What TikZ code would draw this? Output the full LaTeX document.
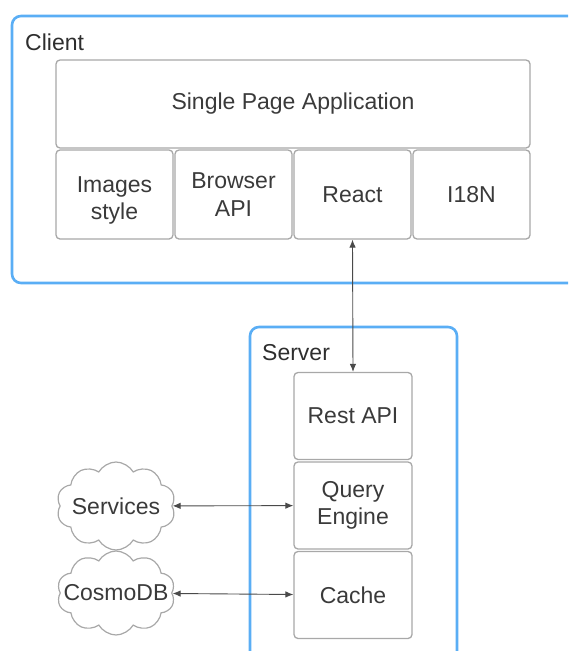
\documentclass[tikz,border=0pt]{standalone}
\usepackage{fontspec}
\setmainfont{Liberation Sans}
\usetikzlibrary{shapes.symbols,arrows.meta}
\definecolor{frameblue}{HTML}{5AAEF5}
\definecolor{boxgray}{HTML}{A8A8A8}
\definecolor{txtgray}{HTML}{3A3A3A}
\definecolor{linegray}{HTML}{4A4A4A}
\tikzset{
  container/.style={draw=frameblue, line width=2.6pt, rounded corners=9pt, inner sep=0pt},
  parttext/.style={inner sep=0pt, align=center, text=txtgray, font=\fontsize{23}{27.5}\selectfont},
  part/.style={parttext, draw=boxgray, line width=1.3pt, rounded corners=4pt},
  grouplabel/.style={anchor=west, inner sep=0pt, text=txtgray!80!black, font=\fontsize{23}{27.5}\selectfont},
  extcloud/.style={cloud, cloud puffs=10, cloud puff arc=120, draw=boxgray, line width=1.2pt,
                   inner sep=0pt},
  link/.style={draw=linegray, line width=0.9pt, {Latex[length=8pt,width=6.5pt]}-{Latex[length=8pt,width=6.5pt]}}
}
\begin{document}
\begin{tikzpicture}[x=1pt,y=-1pt]
  \useasboundingbox (0,0) rectangle (568,651);
  \clip (0,0) rectangle (568,651);

  % client tier
  \node[container, minimum width=608pt, minimum height=267pt] (client) at (316,149.5) {};
  \node[grouplabel] (clientlbl) at (25,42) {Client};
  \node[part, minimum width=474pt, minimum height=88pt] (spa) at (293,104) {Single Page Application};
  \node[part, minimum width=117pt, minimum height=89pt] (images) at (114.5,194.5) {};
  \node[parttext] (imagestxt) at ([yshift=-6pt]images.center) {Images\\style};
  \node[part, minimum width=117pt, minimum height=89pt] (browser) at (233.5,194.5) {Browser\\API};
  \node[part, minimum width=117pt, minimum height=89pt] (react) at (352.5,194.5) {React};
  \node[part, minimum width=117pt, minimum height=89pt] (i18n) at (471.5,194.5) {I18N};

  % server tier
  \node[container, minimum width=207pt, minimum height=373pt] (server) at (353.5,513.5) {};
  \node[grouplabel] (serverlbl) at (262,353) {Server};
  \node[part, minimum width=118pt, minimum height=87pt] (rest) at (353,416) {Rest API};
  \node[part, minimum width=118pt, minimum height=87pt] (query) at (353,505.5) {Query\\Engine};
  \node[part, minimum width=118pt, minimum height=87pt] (cache) at (353,595) {Cache};

  % external resources
  \node[extcloud, minimum width=119pt, minimum height=88pt] (services) at (116,506) {};
  \node[parttext] (servicestxt) at (services.center) {Services};
  \node[extcloud, minimum width=118pt, minimum height=84pt] (cosmo) at (116,593) {};
  \node[parttext] (cosmotxt) at (cosmo.center) {CosmoDB};

  % connections
  \draw[link] (react.south) -- (rest.north);
  \draw[link] (services) -- (query);
  \draw[link] (cosmo) -- (cache);
\end{tikzpicture}
\end{document}
